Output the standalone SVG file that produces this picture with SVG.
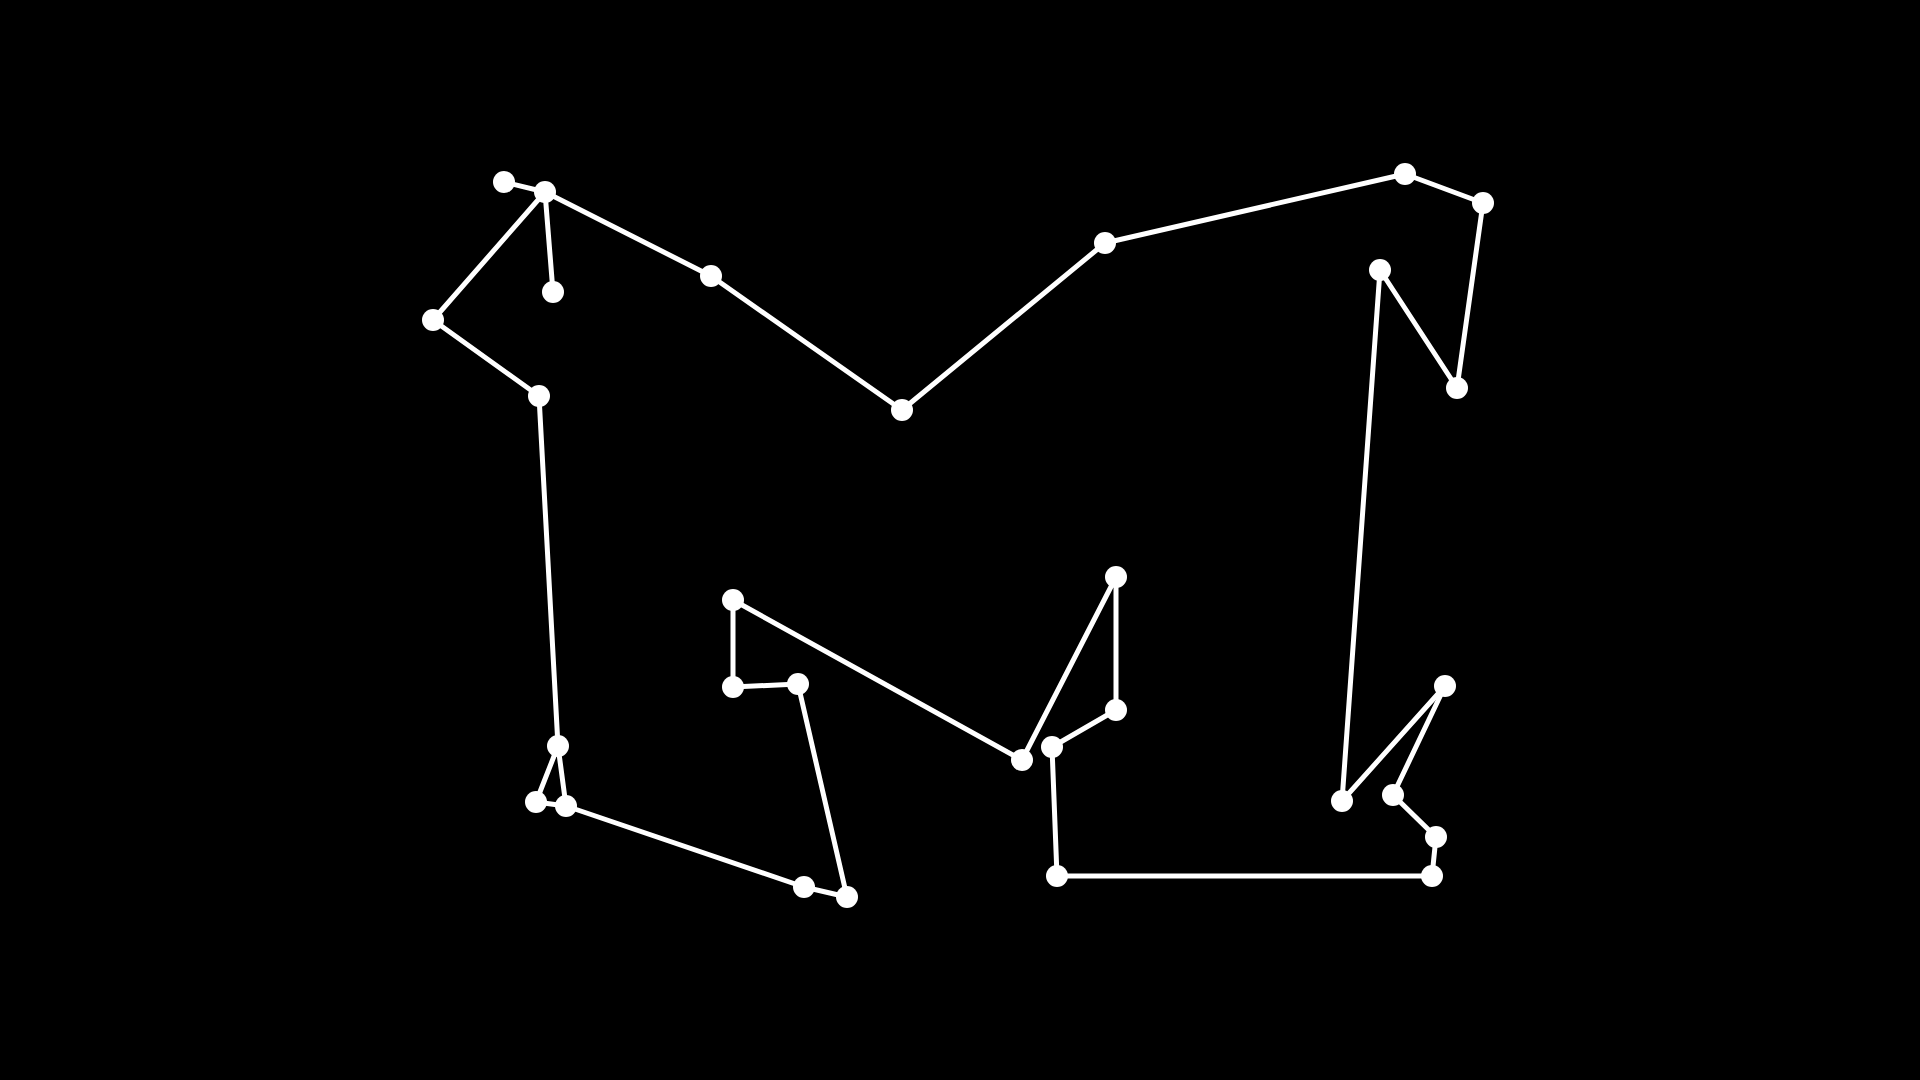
<svg xmlns="http://www.w3.org/2000/svg" width="1920" height="1080" viewBox="0 0 1920 1080">
<style>
.e{stroke:#fff;stroke-width:5;fill:none;stroke-linecap:round}
.n{fill:#fff}
</style>
<rect width="1920" height="1080" fill="#000"/>
<g id="connectors">
<line class="e" x1="504" y1="182" x2="545" y2="192"/>
<line class="e" x1="545" y1="192" x2="711" y2="276"/>
<line class="e" x1="711" y1="276" x2="902" y2="410"/>
<line class="e" x1="902" y1="410" x2="1105" y2="243"/>
<line class="e" x1="1105" y1="243" x2="1405" y2="174"/>
<line class="e" x1="1405" y1="174" x2="1483" y2="203"/>
<line class="e" x1="1483" y1="203" x2="1457" y2="388"/>
<line class="e" x1="1457" y1="388" x2="1380" y2="270"/>
<line class="e" x1="1380" y1="270" x2="1342" y2="801"/>
<line class="e" x1="1342" y1="801" x2="1445" y2="686"/>
<line class="e" x1="1445" y1="686" x2="1393" y2="795"/>
<line class="e" x1="1393" y1="795" x2="1436" y2="837"/>
<line class="e" x1="1436" y1="837" x2="1432" y2="876"/>
<line class="e" x1="1432" y1="876" x2="1057" y2="876"/>
<line class="e" x1="1057" y1="876" x2="1052" y2="747"/>
<line class="e" x1="1052" y1="747" x2="1116" y2="710"/>
<line class="e" x1="1116" y1="710" x2="1116" y2="577"/>
<line class="e" x1="1116" y1="577" x2="1022" y2="760"/>
<line class="e" x1="1022" y1="760" x2="733" y2="600"/>
<line class="e" x1="733" y1="600" x2="733" y2="687"/>
<line class="e" x1="733" y1="687" x2="798" y2="684"/>
<line class="e" x1="798" y1="684" x2="847" y2="897"/>
<line class="e" x1="847" y1="897" x2="804" y2="887"/>
<line class="e" x1="804" y1="887" x2="566" y2="806"/>
<line class="e" x1="566" y1="806" x2="558" y2="746"/>
<line class="e" x1="558" y1="746" x2="536" y2="802"/>
<line class="e" x1="536" y1="802" x2="566" y2="806"/>
<line class="e" x1="558" y1="746" x2="539" y2="396"/>
<line class="e" x1="539" y1="396" x2="433" y2="320"/>
<line class="e" x1="433" y1="320" x2="545" y2="192"/>
<line class="e" x1="545" y1="192" x2="553" y2="292"/>
</g>
<g id="n1"><circle class="n" cx="504" cy="182" r="11"/></g>
<g id="n2"><circle class="n" cx="545" cy="192" r="11"/></g>
<g id="n3"><circle class="n" cx="553" cy="292" r="11"/></g>
<g id="n4"><circle class="n" cx="433" cy="320" r="11"/></g>
<g id="n5"><circle class="n" cx="539" cy="396" r="11"/></g>
<g id="n6"><circle class="n" cx="711" cy="276" r="11"/></g>
<g id="n7"><circle class="n" cx="902" cy="410" r="11"/></g>
<g id="n8"><circle class="n" cx="1105" cy="243" r="11"/></g>
<g id="n9"><circle class="n" cx="1405" cy="174" r="11"/></g>
<g id="n10"><circle class="n" cx="1483" cy="203" r="11"/></g>
<g id="n11"><circle class="n" cx="1457" cy="388" r="11"/></g>
<g id="n12"><circle class="n" cx="1380" cy="270" r="11"/></g>
<g id="n13"><circle class="n" cx="1342" cy="801" r="11"/></g>
<g id="n14"><circle class="n" cx="1445" cy="686" r="11"/></g>
<g id="n15"><circle class="n" cx="1393" cy="795" r="11"/></g>
<g id="n16"><circle class="n" cx="1436" cy="837" r="11"/></g>
<g id="n17"><circle class="n" cx="1432" cy="876" r="11"/></g>
<g id="n18"><circle class="n" cx="1057" cy="876" r="11"/></g>
<g id="n19"><circle class="n" cx="1052" cy="747" r="11"/></g>
<g id="n20"><circle class="n" cx="1116" cy="710" r="11"/></g>
<g id="n21"><circle class="n" cx="1116" cy="577" r="11"/></g>
<g id="n22"><circle class="n" cx="1022" cy="760" r="11"/></g>
<g id="n23"><circle class="n" cx="733" cy="600" r="11"/></g>
<g id="n24"><circle class="n" cx="733" cy="687" r="11"/></g>
<g id="n25"><circle class="n" cx="798" cy="684" r="11"/></g>
<g id="n26"><circle class="n" cx="847" cy="897" r="11"/></g>
<g id="n27"><circle class="n" cx="804" cy="887" r="11"/></g>
<g id="n28"><circle class="n" cx="566" cy="806" r="11"/></g>
<g id="n29"><circle class="n" cx="558" cy="746" r="11"/></g>
<g id="n30"><circle class="n" cx="536" cy="802" r="11"/></g>
</svg>
